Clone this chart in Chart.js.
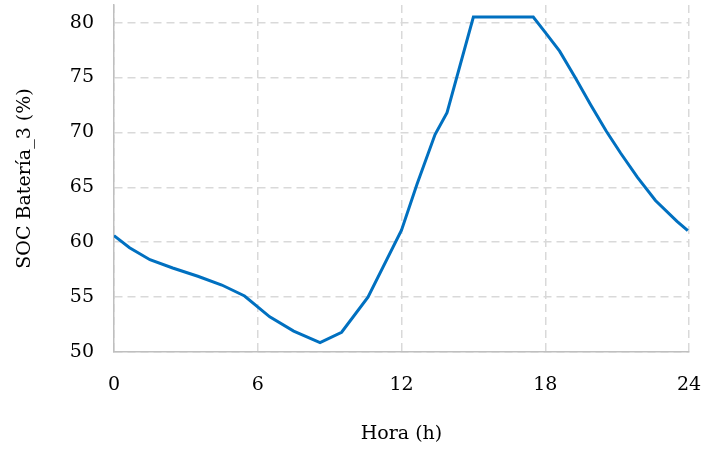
<!DOCTYPE html>
<html>
<head>
<meta charset="utf-8">
<script src="https://cdn.jsdelivr.net/npm/chart.js@4/dist/chart.umd.min.js"></script>
<style>
  html, body { margin: 0; padding: 0; background: #ffffff; }
  #wrap { width: 705px; height: 451px; position: relative; }
</style>
</head>
<body>
<div id="wrap"><canvas id="c" width="705" height="451"></canvas></div>
<script>
const hours = [0, 0.65, 1.5, 2.45, 3.5, 4.5, 5.45, 6.5, 7.5, 8.6, 9.5, 10.6, 12.0, 12.65, 13.4, 13.9, 15.0, 17.5, 18.0, 18.6, 19.25, 19.9, 20.55, 21.15, 21.85, 22.6, 23.5, 23.95];
const soc   = [60.6, 59.5, 58.4, 57.65, 56.9, 56.1, 55.1, 53.2, 51.9, 50.85, 51.8, 55.0, 61.1, 65.3, 69.8, 71.8, 80.5, 80.5, 79.1, 77.4, 75.0, 72.5, 70.1, 68.1, 65.9, 63.8, 61.9, 61.05];
const xTicks = [0, 6, 12, 18, 24];
const yTicks = [50, 55, 60, 65, 70, 75, 80];
const xTitle = 'Hora (h)';
const yTitle = 'SOC Batería_3 (%)';

const fontFamily = '"DejaVu Serif", "Liberation Serif", serif';
const points = hours.map((h, i) => ({ x: h, y: soc[i] }));

new Chart(document.getElementById('c'), {
  type: 'line',
  data: {
    datasets: [{
      data: points,
      borderColor: '#0070C0',
      borderWidth: 3,
      pointRadius: 0,
      tension: 0,
      fill: false
    }]
  },
  options: {
    responsive: false,
    animation: false,
    layout: { padding: { left: 0, top: 5, right: 16, bottom: 0 } },
    plugins: { legend: { display: false }, tooltip: { enabled: false } },
    scales: {
      x: {
        type: 'linear',
        min: 0,
        max: 24,
        afterBuildTicks: s => { s.ticks = xTicks.map(v => ({ value: v })); },
        afterFit: s => { s.height = 99; s.paddingLeft = 0; s.paddingRight = 0; },
        grid: { color: '#d9d9d9', lineWidth: 1.5, drawTicks: false },
        border: { display: true, color: '#bfbfbf', width: 1.5, dash: [8, 5] },
        ticks: { color: '#000', padding: 22, font: { family: fontFamily, size: 19 }, maxRotation: 0 },
        title: { display: true, text: xTitle, color: '#000', font: { family: fontFamily, size: 19 }, padding: { top: 0, bottom: 6 } }
      },
      y: {
        min: 50,
        max: 81.6,
        afterBuildTicks: s => { s.ticks = yTicks.map(v => ({ value: v })); },
        afterFit: s => { s.width = 114; s.paddingTop = 0; s.paddingBottom = 0; },
        grid: { color: '#d9d9d9', lineWidth: 1.5, drawTicks: false },
        border: { display: true, color: '#bfbfbf', width: 1.5, dash: [8, 5] },
        ticks: { color: '#000', padding: 20, font: { family: fontFamily, size: 19 } },
        title: { display: true, text: yTitle, color: '#000', font: { family: fontFamily, size: 19 }, padding: { top: 14, bottom: 0 } }
      }
    }
  }
});
</script>
</body>
</html>
